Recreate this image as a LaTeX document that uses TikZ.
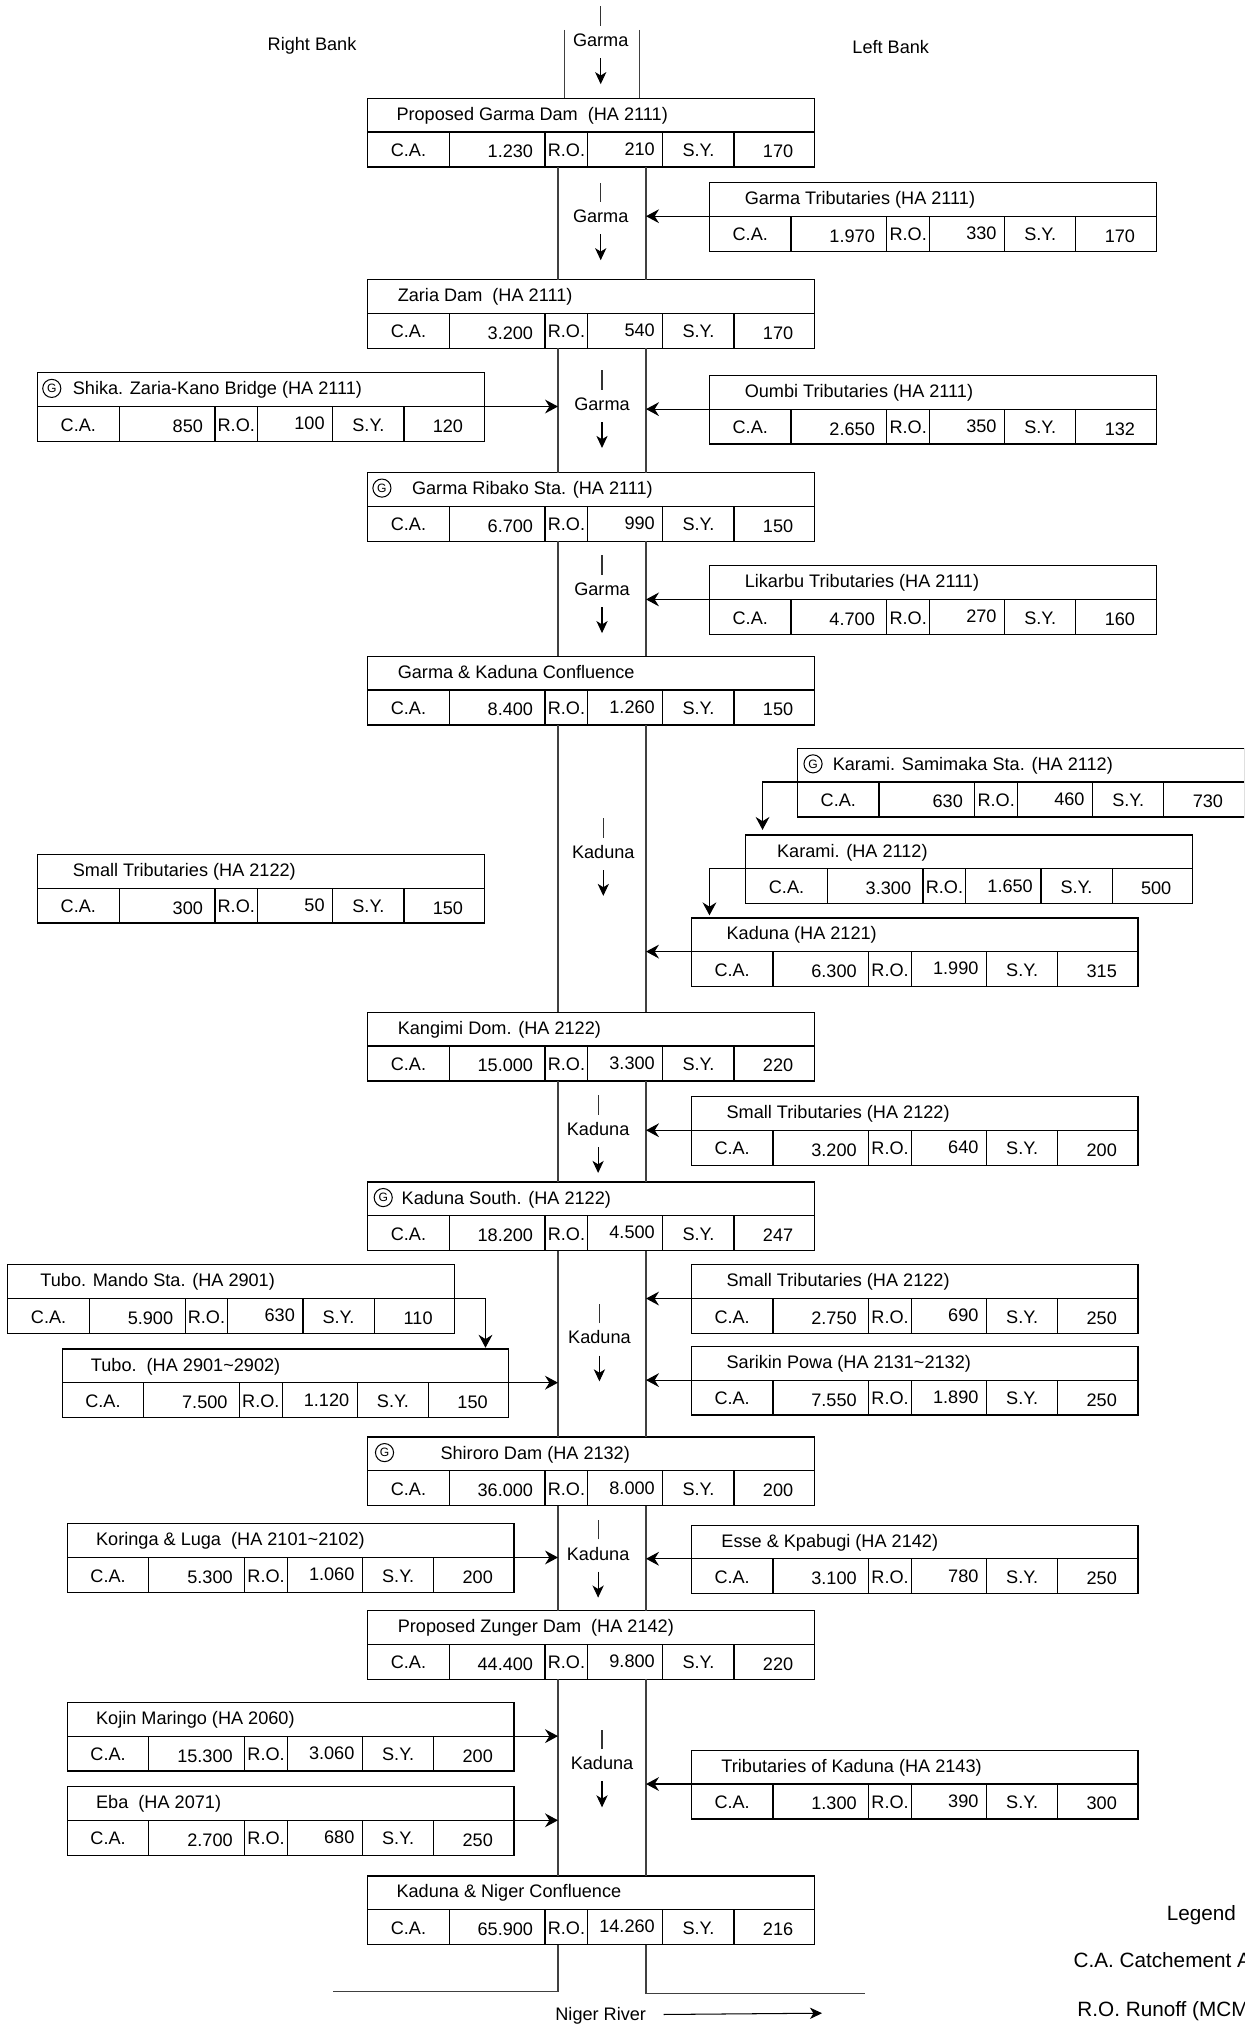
\documentclass[tikz,border=0pt]{standalone}
\usepackage{fontspec}
\setmainfont{Liberation Sans}
\usetikzlibrary{arrows.meta}
\tikzset{
 boxline/.style={draw=black, line width=0.7pt},
 river/.style={draw=black!75, line width=0.7pt},
 txt/.style={inner sep=0pt, text height=7.5pt, text depth=0pt, font=\fontsize{10.5}{12}\selectfont},
 legtxt/.style={inner sep=0pt, text height=8.6pt, text depth=0pt, font=\fontsize{12}{14}\selectfont},
 arr/.style={draw=black, line width=0.7pt, -{Stealth[length=7.5pt, width=8pt, inset=2.5pt]}},
 darr/.style={draw=black, line width=0.6pt, -{Stealth[length=7pt, width=6.5pt, inset=2pt]}},
 tickline/.style={draw=black!80, line width=0.6pt},
 gmark/.style={circle, draw, line width=0.6pt, inner sep=0pt, minimum size=10.5pt, font=\fontsize{7}{8}\selectfont},
}
\newcommand{\HydroBox}[8]{%
 \begin{scope}[shift={(#2,#3)}]
  \node[draw, line width=0.7pt, outer sep=0pt, inner sep=0pt, minimum width=258.75pt, minimum height=39.75pt, anchor=north west] (#1) at (0,0) {};
  \coordinate (#1-w) at (0,26);
  \coordinate (#1-e) at (345,26);
  \draw[boxline] (0,26) -- (345,26);
  \foreach \xx in {63,137,170,228,283} \draw[boxline] (\xx,26) -- (\xx,53);
  \node[txt, anchor=west] at (#4,12) {#5};
  \node[txt] at (31.5,40) {C.A.};
  \node[txt, anchor=east] at (128,41) {#6};
  \node[txt] at (153.5,40) {R.O.};
  \node[txt, anchor=east] at (222,39) {#7};
  \node[txt] at (255.5,40) {S.Y.};
  \node[txt] at (317,41) {#8};
 \end{scope}}
\newcommand{\Gmark}[2]{\node[gmark] at ([shift={(#2,12)}]#1.north west) {G};}
\newcommand{\RiverLab}[4]{%
 \node[txt] (#1) at (#2,#3) {#4};
 \draw[tickline] ([shift={(0,-11)}]#1.center) -- ++(0,-15);
 \draw[darr] ([shift={(0,14)}]#1.center) -- ++(0,20);}
\begin{document}
\begin{tikzpicture}[x=0.75pt, y=-0.75pt]
\useasboundingbox (0,0) rectangle (961,1568);
\fill[white] (0,0) rectangle (961,1568);
\clip (0,0) rectangle (961,1568);

\coordinate (RL) at (431,0);
\coordinate (RR) at (499,0);

% bank labels
\node[txt] (rb) at (241,34) {Right Bank};
\node[txt] (lb) at (688,36) {Left Bank};

% main trunk
\HydroBox{m1}{284}{76}{22}{Proposed Garma Dam\ \ (HA 2111)}{1.230}{210}{170}
\HydroBox{m2}{284}{216}{23}{Zaria Dam\ \ (HA 2111)}{3.200}{540}{170}
\HydroBox{m3}{284}{365}{34}{Garma Ribako Sta. (HA 2111)}{6.700}{990}{150}
\Gmark{m3}{11}
\HydroBox{m4}{284}{507}{23}{Garma \& Kaduna Confluence}{8.400}{1.260}{150}
\HydroBox{m5}{284}{782}{23}{Kangimi Dom. (HA 2122)}{15.000}{3.300}{220}
\HydroBox{m6}{284}{913}{26}{Kaduna South. (HA 2122)}{18.200}{4.500}{247}
\Gmark{m6}{12}
\HydroBox{m7}{284}{1110}{56}{Shiroro Dam (HA 2132)}{36.000}{8.000}{200}
\Gmark{m7}{13}
\HydroBox{m8}{284}{1244}{23}{Proposed Zunger Dam\ \ (HA 2142)}{44.400}{9.800}{220}
\HydroBox{nc}{284}{1449}{22}{Kaduna \& Niger Confluence}{65.900}{14.260}{216}

% right bank tributaries
\HydroBox{gt}{548}{141}{27}{Garma Tributaries (HA 2111)}{1.970}{330}{170}
\HydroBox{ou}{548}{290}{27}{Oumbi Tributaries (HA 2111)}{2.650}{350}{132}
\HydroBox{li}{548}{437}{27}{Likarbu Tributaries (HA 2111)}{4.700}{270}{160}
\HydroBox{ks}{616}{578}{27}{Karami. Samimaka Sta. (HA 2112)}{630}{460}{730}
\Gmark{ks}{12}
\HydroBox{ka}{576}{645}{24}{Karami. (HA 2112)}{3.300}{1.650}{500}
\HydroBox{kd}{534}{709}{27}{Kaduna (HA 2121)}{6.300}{1.990}{315}
\HydroBox{sa}{534}{847}{27}{Small Tributaries (HA 2122)}{3.200}{640}{200}
\HydroBox{sb}{534}{977}{27}{Small Tributaries (HA 2122)}{2.750}{690}{250}
\HydroBox{sp}{534}{1040}{27}{Sarikin Powa (HA 2131\textasciitilde 2132)}{7.550}{1.890}{250}
\HydroBox{ek}{534}{1178}{23}{Esse \& Kpabugi (HA 2142)}{3.100}{780}{250}
\HydroBox{tk}{534}{1352}{23}{Tributaries of Kaduna (HA 2143)}{1.300}{390}{300}

% left bank tributaries
\HydroBox{sh}{29}{288}{27}{Shika. Zaria-Kano Bridge (HA 2111)}{850}{100}{120}
\Gmark{sh}{11}
\HydroBox{sl}{29}{660}{27}{Small Tributaries (HA 2122)}{300}{50}{150}
\HydroBox{tm}{6}{977}{25}{Tubo. Mando Sta. (HA 2901)}{5.900}{630}{110}
\HydroBox{tb}{48}{1042}{22}{Tubo.\ \ (HA 2901\textasciitilde 2902)}{7.500}{1.120}{150}
\HydroBox{kl}{52}{1177}{22}{Koringa \& Luga\ \ (HA 2101\textasciitilde 2102)}{5.300}{1.060}{200}
\HydroBox{km}{52}{1315}{22}{Kojin Maringo (HA 2060)}{15.300}{3.060}{200}
\HydroBox{eb}{52}{1380}{22}{Eba\ \ (HA 2071)}{2.700}{680}{250}

% river banks
\coordinate (srcL) at (436,23);
\coordinate (srcR) at (494,23);
\draw[river] (srcL) -- (srcL |- m1.north);
\draw[river] (srcR) -- (srcR |- m1.north);
\foreach \a/\b in {m1/m2,m2/m3,m3/m4,m4/m5,m5/m6,m6/m7,m7/m8,m8/nc}{
  \draw[river] (\a.south -| RL) -- (\b.north -| RL);
  \draw[river] (\a.south -| RR) -- (\b.north -| RR);
}
\coordinate (bl) at (257,1538);
\coordinate (br) at (668,1540);
\draw[river] (nc.south -| RL) |- (bl);
\draw[river] (nc.south -| RR) |- (br);

% river labels
\RiverLab{g1}{464}{31}{Garma}
\RiverLab{g2}{464}{167}{Garma}
\RiverLab{g3}{465}{312}{Garma}
\RiverLab{g4}{465}{455}{Garma}
\RiverLab{k1}{466}{658}{Kaduna}
\RiverLab{k2}{462}{872}{Kaduna}
\RiverLab{k3}{463}{1033}{Kaduna}
\RiverLab{k4}{462}{1200}{Kaduna}
\RiverLab{k5}{465}{1362}{Kaduna}

% inflow arrows
\draw[arr] (gt-w) -- (gt-w -| RR);
\draw[arr] (ou-w) -- (ou-w -| RR);
\draw[arr] (li-w) -- (li-w -| RR);
\coordinate (ksd) at (589,641);
\draw[arr] (ks-w) -| (ksd);
\coordinate (kad) at (548,707);
\draw[arr] (ka-w) -| (kad);
\draw[arr] (kd-w) -- (kd-w -| RR);
\draw[arr] (sa-w) -- (sa-w -| RR);
\draw[arr] (sb-w) -- (sb-w -| RR);
\draw[arr] (sp-w) -- (sp-w -| RR);
\draw[arr] (ek-w) -- (ek-w -| RR);
\draw[arr] (tk-w) -- (tk-w -| RR);
\draw[arr] (sh-e) -- (sh-e -| RL);
\coordinate (tmd) at (375,1041);
\draw[arr] (tm-e) -| (tmd);
\draw[arr] (tb-e) -- (tb-e -| RL);
\draw[arr] (kl-e) -- (kl-e -| RL);
\draw[arr] (km-e) -- (km-e -| RL);
\draw[arr] (eb-e) -- (eb-e -| RL);

% Niger River
\node[txt] (nr) at (464,1556) {Niger River};
\coordinate (nre) at (635,1555);
\draw[darr] ([xshift=10pt]nr.east) -- (nre);

% legend
\node[legtxt] (leg) at (928,1478) {Legend};
\node[legtxt, anchor=west] (leg1) at (829,1514) {C.A. Catchement Area};
\node[legtxt, anchor=west] (leg2) at (832,1552) {R.O. Runoff (MCM)};
\end{tikzpicture}
\end{document}
